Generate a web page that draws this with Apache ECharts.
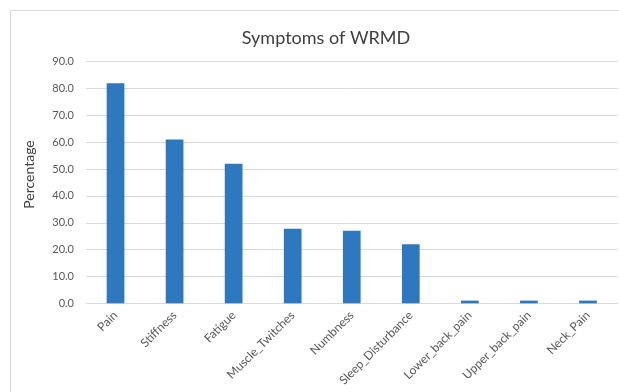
<!DOCTYPE html>
<html>
<head>
<meta charset="utf-8">
<script src="https://cdn.jsdelivr.net/npm/echarts@6/dist/echarts.min.js"></script>
<style>
  html, body { margin: 0; padding: 0; background: #fff; }
  #chart { width: 619px; height: 392px; }
</style>
</head>
<body>
<div id="chart"></div>
<script>
// Symptom categories and the share of respondents reporting each (%)
const symptoms = ['Pain', 'Stiffness', 'Fatigue', 'Muscle_Twitches', 'Numbness',
  'Sleep_Disturbance', 'Lower_back_pain', 'Upper_back_pain', 'Neck_Pain'];
const percentages = [82.0, 61.0, 52.0, 27.8, 27.0, 22.0, 1.0, 1.0, 1.0];

const chart = echarts.init(document.getElementById('chart'), null, { renderer: 'canvas' });
const font = 'Lato, "Open Sans", sans-serif';

chart.setOption({
  animation: false,
  backgroundColor: '#ffffff',
  title: {
    text: 'Symptoms of WRMD',
    left: 321,
    textAlign: 'center',
    top: 24,
    textStyle: { fontFamily: font, fontSize: 18, fontWeight: 'normal', color: '#404040' }
  },
  graphic: [{
    type: 'rect',
    shape: { x: 10.5, y: 10.5, width: 640, height: 400 },
    style: { fill: 'none', stroke: '#d9d9d9', lineWidth: 1 },
    silent: true,
    z: -1
  }],
  grid: { left: 86, right: 1.5, top: 61.7, bottom: 88.7, containLabel: false },
  xAxis: {
    type: 'category',
    data: symptoms,
    axisTick: { show: false },
    axisLine: { lineStyle: { color: '#d9d9d9', width: 1 } },
    axisLabel: {
      rotate: 45,
      interval: 0,
      margin: 10,
      fontFamily: font,
      fontSize: 12,
      color: '#595959'
    }
  },
  yAxis: {
    type: 'value',
    min: 0,
    max: 90,
    interval: 10,
    name: 'Percentage',
    nameLocation: 'middle',
    nameGap: 50,
    nameTextStyle: { fontFamily: font, fontSize: 14, color: '#404040', padding: [0, 0, 0, 16] },
    axisLine: { show: false },
    axisTick: { show: false },
    axisLabel: {
      margin: 12,
      fontFamily: font,
      fontSize: 11,
      color: '#595959',
      formatter: v => v.toFixed(1)
    },
    splitLine: { lineStyle: { color: '#d9d9d9', width: 1 } }
  },
  series: [{
    type: 'bar',
    data: percentages,
    barWidth: '30%',
    itemStyle: { color: '#2e78bf' }
  }]
});
</script>
</body>
</html>
